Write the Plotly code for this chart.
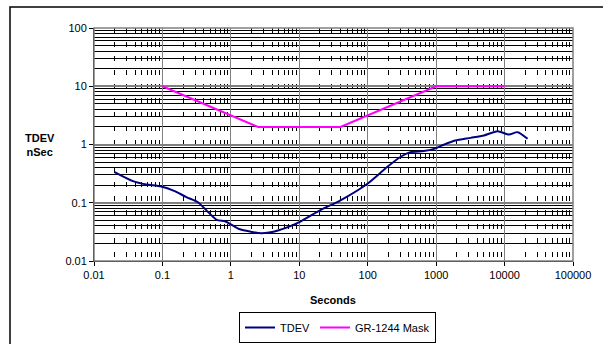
import plotly.graph_objects as go

tau_tdev = [0.02, 0.037, 0.058, 0.096, 0.151, 0.224, 0.33, 0.44, 0.62, 0.82, 1.02, 1.36, 1.9, 2.8, 4.9,
            10.2, 20, 40, 98, 192, 300, 420, 660, 930, 1290, 1900, 3200, 5000, 7900, 11600, 15500, 21700]
tdev = [0.335, 0.235, 0.206, 0.19, 0.158, 0.125, 0.102, 0.074, 0.051, 0.048, 0.042, 0.035, 0.032, 0.030, 0.0335,
        0.047, 0.074, 0.11, 0.21, 0.41, 0.61, 0.74, 0.77, 0.84, 0.99, 1.17, 1.30, 1.43, 1.69, 1.48, 1.63, 1.25]

tau_mask = [0.1, 2.5, 40, 1000, 10000]
mask = [10, 2, 2, 10, 10]

x_ticks = [0.01, 0.1, 1, 10, 100, 1000, 10000, 100000]
x_labels = ["0.01", "0.1", "1", "10", "100", "1000", "10000", "100000"]
y_ticks = [0.01, 0.1, 1, 10, 100]
y_labels = ["0.01", "0.1", "1", "10", "100"]

minor_x = [m * 10 ** e for e in range(-2, 5) for m in range(2, 10)]
minor_y = [m * 10 ** e for e in range(-2, 2) for m in range(2, 10)]

fig = go.Figure()
fig.add_trace(go.Scatter(x=tau_tdev, y=tdev, mode="lines", name="TDEV",
                         line=dict(color="#000080", width=2, shape="spline", smoothing=0.7)))
fig.add_trace(go.Scatter(x=tau_mask, y=mask, mode="lines", name="GR-1244 Mask",
                         line=dict(color="#FF00FF", width=2)))

L, R, T, B = 94, 573, 28, 261
W, H = 603, 344
pw, ph = R - L, B - T

def px(X):
    return (X - L) / pw

def py(Y):
    return (B - Y) / ph

fig.update_layout(
    width=W, height=H,
    margin=dict(l=L, r=W - R, t=T, b=H - B, autoexpand=False),
    paper_bgcolor="white", plot_bgcolor="white",
    font=dict(family="Liberation Sans, Arial, sans-serif", size=11, color="black"),
    showlegend=True,
    legend=dict(orientation="h", x=px(239), xanchor="left", y=py(343), yanchor="bottom",
                bordercolor="black", borderwidth=1, font=dict(size=11),
                tracegroupgap=0),
    xaxis=dict(type="log", range=[-2, 5], tickvals=x_ticks, ticktext=x_labels,
               showgrid=True, gridcolor="#808080", gridwidth=1,
               ticks="outside", ticklen=4, tickcolor="black",
               showline=True, linecolor="black", linewidth=1,
               minor=dict(tickvals=minor_x, showgrid=True, gridcolor="black", gridwidth=1,
                          griddash="5px,9px", ticks=""),
               zeroline=False, tickfont=dict(size=11)),
    yaxis=dict(type="log", range=[-2, 2], tickvals=y_ticks, ticktext=y_labels,
               showgrid=True, gridcolor="#808080", gridwidth=2,
               ticks="outside", ticklen=4, tickcolor="black",
               showline=True, linecolor="black", linewidth=1,
               minor=dict(tickvals=minor_y, showgrid=True, gridcolor="black", gridwidth=1, ticks=""),
               zeroline=False, tickfont=dict(size=11)),
    shapes=[
        dict(type="rect", xref="paper", yref="paper", x0=0, x1=1, y0=0, y1=1,
             line=dict(color="#808080", width=1.5), layer="above"),
        dict(type="rect", xref="paper", yref="paper", x0=px(10), x1=px(615), y0=py(360), y1=py(7),
             line=dict(color="black", width=1.5)),
    ],
    annotations=[
        dict(text="<b>Seconds</b>", xref="paper", yref="paper", x=px(333), y=py(300),
             xanchor="center", yanchor="middle", showarrow=False, font=dict(size=11)),
        dict(text="<b>TDEV<br>nSec</b>", xref="paper", yref="paper", x=px(40), y=py(145),
             xanchor="center", yanchor="middle", showarrow=False, font=dict(size=11)),
    ],
)

fig.write_html("out.html", config={"displayModeBar": False},
               post_script="document.body.style.margin='0';")
